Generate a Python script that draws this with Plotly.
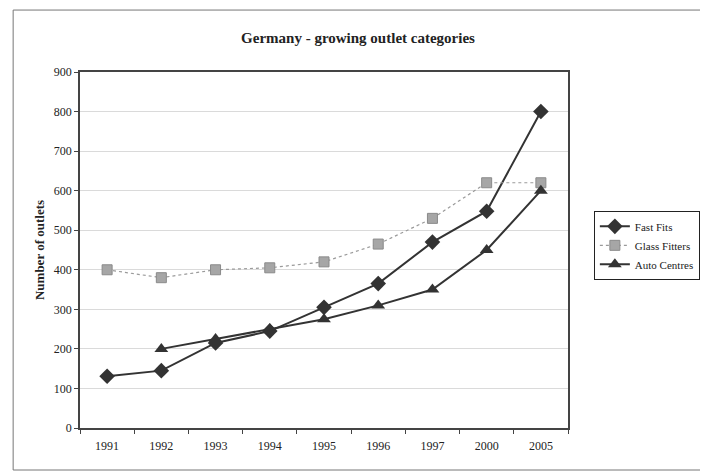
import plotly.graph_objects as go

years = ["1991", "1992", "1993", "1994", "1995", "1996", "1997", "2000", "2005"]
fast_fits = [131, 145, 215, 245, 305, 365, 470, 548, 800]
glass_fitters = [400, 380, 400, 405, 420, 465, 530, 620, 620]
auto_centres = [None, 200, 225, 250, 275, 310, 350, 450, 600]

FONT = "Liberation Serif, Times New Roman, serif"

fig = go.Figure()
fig.add_trace(go.Scatter(
    x=years, y=fast_fits, name="Fast Fits", mode="lines+markers",
    line=dict(color="#333333", width=2),
    marker=dict(symbol="diamond", size=12, color="#333333"),
))
fig.add_trace(go.Scatter(
    x=years, y=glass_fitters, name="Glass Fitters", mode="lines+markers",
    line=dict(color="#9a9a9a", width=1.2, dash="dot"),
    marker=dict(symbol="square", size=10, color="#a6a6a6",
                line=dict(color="#8a8a8a", width=1)),
))
fig.add_trace(go.Scatter(
    x=years, y=auto_centres, name="Auto Centres", mode="lines+markers",
    line=dict(color="#333333", width=2),
    marker=dict(symbol="triangle-up", size=12, color="#333333"),
))

# the page body adds 8px around the figure, so the figure is a little smaller
fig.update_layout(
    width=700, height=465,
    paper_bgcolor="white", plot_bgcolor="white",
    margin=dict(l=72, r=140, t=64, b=45, autoexpand=False),
    font=dict(family=FONT, size=12, color="#222222"),
    title=dict(text="<b>Germany - growing outlet categories</b>",
               x=0.5, xanchor="center", y=0.935, yanchor="middle",
               font=dict(family=FONT, size=15, color="#222222")),
    showlegend=True,
    legend=dict(x=1.053, y=0.61, xanchor="left", yanchor="top",
                bordercolor="#222222", borderwidth=1, bgcolor="white",
                font=dict(family=FONT, size=11), itemwidth=30,
                tracegroupgap=0),
    xaxis=dict(type="category", range=[-0.5, 8.5], tickson="boundaries",
               ticks="outside", ticklen=4, tickcolor="#444444",
               ticklabelstandoff=6,
               showline=True, linecolor="#444444", linewidth=1.5, mirror=True,
               showgrid=False, tickfont=dict(family=FONT, size=12)),
    yaxis=dict(range=[0, 900], dtick=100, ticks="outside", ticklen=4,
               tickcolor="#444444", showline=True, linecolor="#444444",
               linewidth=1.5, mirror=True, gridcolor="#dadada", gridwidth=1,
               zeroline=False, automargin=False,
               title=dict(text="<b>Number of outlets</b>", standoff=6,
                          font=dict(family=FONT, size=13)),
               tickfont=dict(family=FONT, size=12)),
)

# outer chart frame
fig.add_shape(type="rect", xref="paper", yref="paper",
              x0=-0.137, x1=1.283, y0=-0.118, y1=1.174,
              line=dict(color="#777777", width=1))

fig.write_html("out.html")
